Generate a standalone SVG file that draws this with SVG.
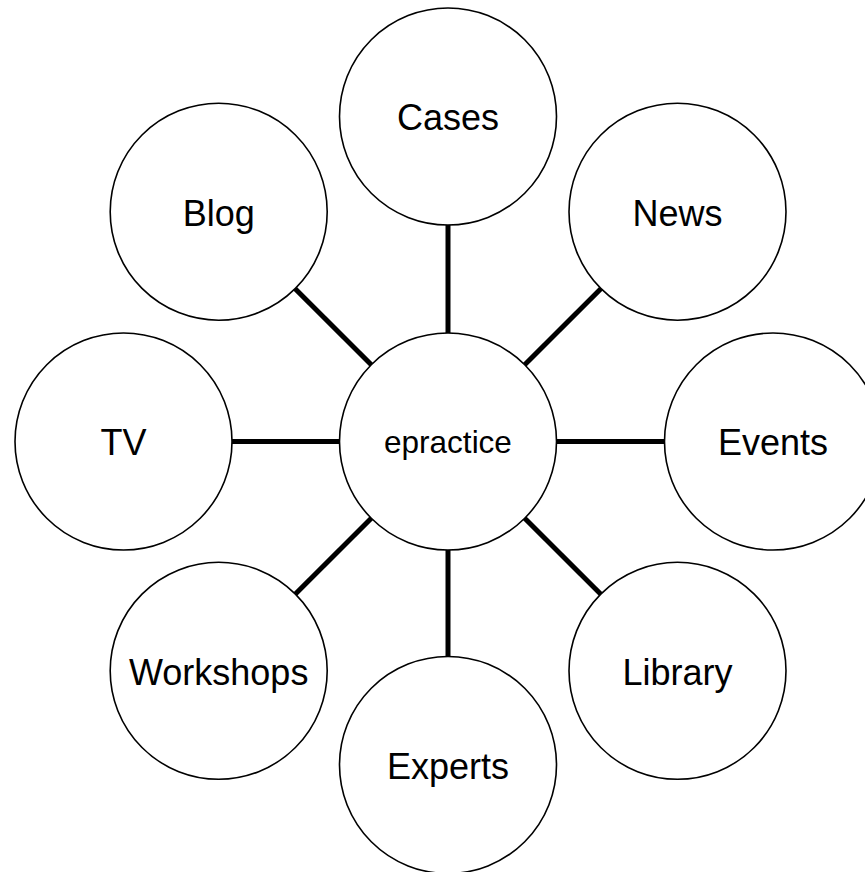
<svg xmlns="http://www.w3.org/2000/svg" width="865" height="872" viewBox="0 0 865 872">
<style>
.n circle{fill:#fff;stroke:#000;stroke-width:1.6}
.n text{font-family:"Liberation Sans",Arial,sans-serif;font-size:36px;fill:#000;text-anchor:middle}
#epractice text{font-size:31.5px}
#connectors line{stroke:#000;stroke-width:5;stroke-linecap:butt}
</style>
<rect width="865" height="872" fill="#fff"/>
<g id="connectors">
<line x1="448" y1="225" x2="448" y2="333"/>
<line x1="448" y1="550" x2="448" y2="656.5"/>
<line x1="231.5" y1="441.5" x2="339.5" y2="441.5"/>
<line x1="556.5" y1="441.5" x2="664.5" y2="441.5"/>
<line x1="524.7" y1="364.8" x2="601.1" y2="288.4"/>
<line x1="371.3" y1="364.8" x2="294.9" y2="288.4"/>
<line x1="524.7" y1="518.2" x2="601.1" y2="594.6"/>
<line x1="371.3" y1="518.2" x2="294.9" y2="594.6"/>
</g>
<g id="epractice" class="n"><circle cx="448" cy="441.5" r="108.5"/><text x="448" y="453">epractice</text></g>
<g id="cases" class="n"><circle cx="448" cy="116.5" r="108.5"/><text x="448" y="129.5">Cases</text></g>
<g id="news" class="n"><circle cx="677.5" cy="211.7" r="108.5"/><text x="677.5" y="225.5">News</text></g>
<g id="events" class="n"><circle cx="773" cy="441.5" r="108.5"/><text x="773" y="455">Events</text></g>
<g id="library" class="n"><circle cx="677.5" cy="670.8" r="108.5"/><text x="677.5" y="684.5">Library</text></g>
<g id="experts" class="n"><circle cx="448" cy="765" r="108.5"/><text x="448" y="778.5">Experts</text></g>
<g id="workshops" class="n"><circle cx="218.7" cy="670.8" r="108.5"/><text x="218.7" y="684.5">Workshops</text></g>
<g id="tv" class="n"><circle cx="123.5" cy="441.5" r="108.5"/><text x="123.5" y="455">TV</text></g>
<g id="blog" class="n"><circle cx="218.7" cy="211.7" r="108.5"/><text x="218.7" y="225.5">Blog</text></g>
</svg>
